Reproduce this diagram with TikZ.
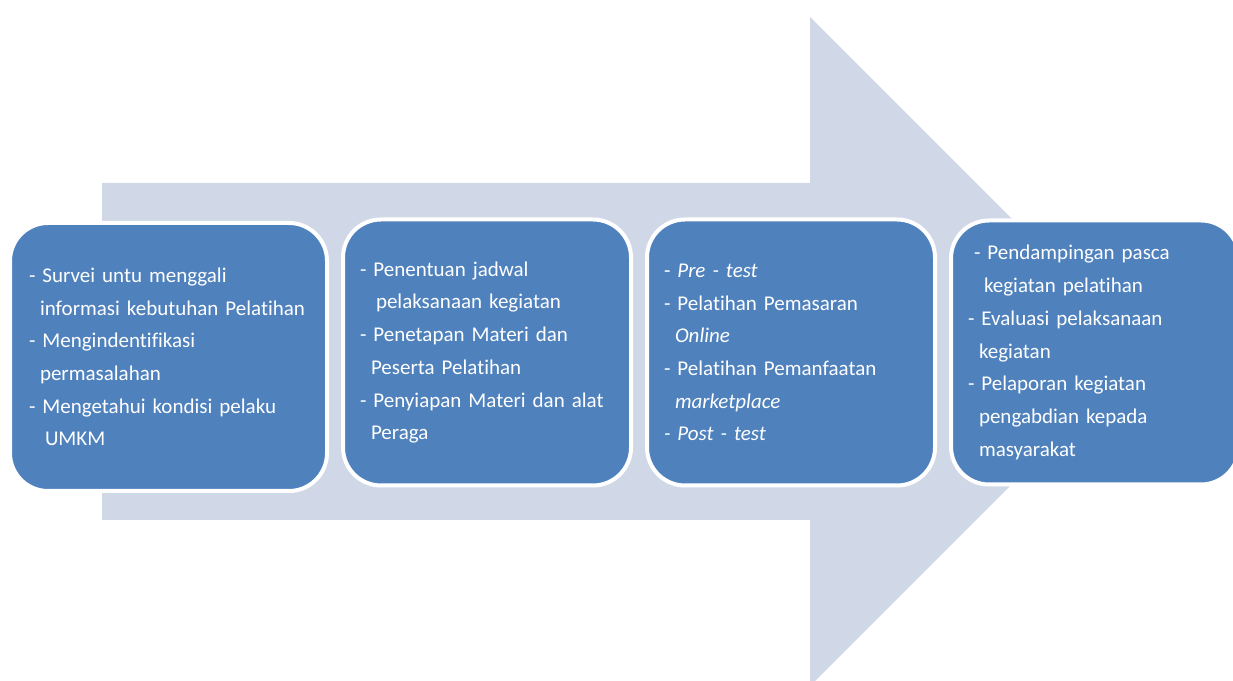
\documentclass[tikz,border=0pt]{standalone}
\usepackage{fontspec}
\setmainfont{Carlito}[Ligatures=NoCommon]
\usetikzlibrary{positioning}
\definecolor{boxblue}{HTML}{4F81BD}
\definecolor{arrowblue}{HTML}{D0D8E8}
\newcommand{\ind}{\hspace*{11pt}}
\newcommand{\indd}{\hspace*{16pt}}
\begin{document}
\begin{tikzpicture}[x=1pt, y=1pt, node distance=16pt,
  box/.style = {draw=white, line width=4pt, fill=boxblue, rounded corners=38pt,
    text=white, align=left, inner xsep=17pt, inner ysep=0pt, outer sep=0pt,
    text width=254pt, minimum height=266pt,
    font=\fontsize{21}{32.7}\selectfont}]
\useasboundingbox (0,0) rectangle (1233,680);
% big arrow behind the boxes
\fill[arrowblue] (102,160) -- (810,160) -- (810,-6) -- (1144.5,328.5)
  -- (810,663) -- (810,497) -- (102,497) -- cycle;
% the four stages
\node[box, text width=279pt, inner xsep=19pt, minimum height=268pt] (1) at (168.5,323)
  {- Survei untu menggali\\
   \ind informasi kebutuhan Pelatihan\\
   - Mengindentifikasi\\
   \ind permasalahan\\
   - Mengetahui kondisi pelaku\\
   \indd UMKM};
\node[box, yshift=4.5pt] (2) [right=of 1]
  {- Penentuan jadwal\\
   \indd pelaksanaan kegiatan\\
   - Penetapan Materi dan\\
   \ind Peserta Pelatihan\\
   - Penyiapan Materi dan alat\\
   \ind Peraga};
\node[box] (3) [right=of 2]
  {- \textit{Pre - test}\\
   - Pelatihan Pemasaran\\
   \ind\textit{Online}\\
   - Pelatihan Pemanfaatan\\
   \ind\textit{marketplace}\\
   \textit{- Post - test}};
\node[box, minimum height=264pt] (4) [right=of 3]
  {\hspace*{6pt}- Pendampingan pasca\\
   \indd kegiatan pelatihan\\
   - Evaluasi pelaksanaan\\
   \ind kegiatan\\
   - Pelaporan kegiatan\\
   \ind pengabdian kepada\\
   \ind masyarakat};
\end{tikzpicture}
\end{document}
